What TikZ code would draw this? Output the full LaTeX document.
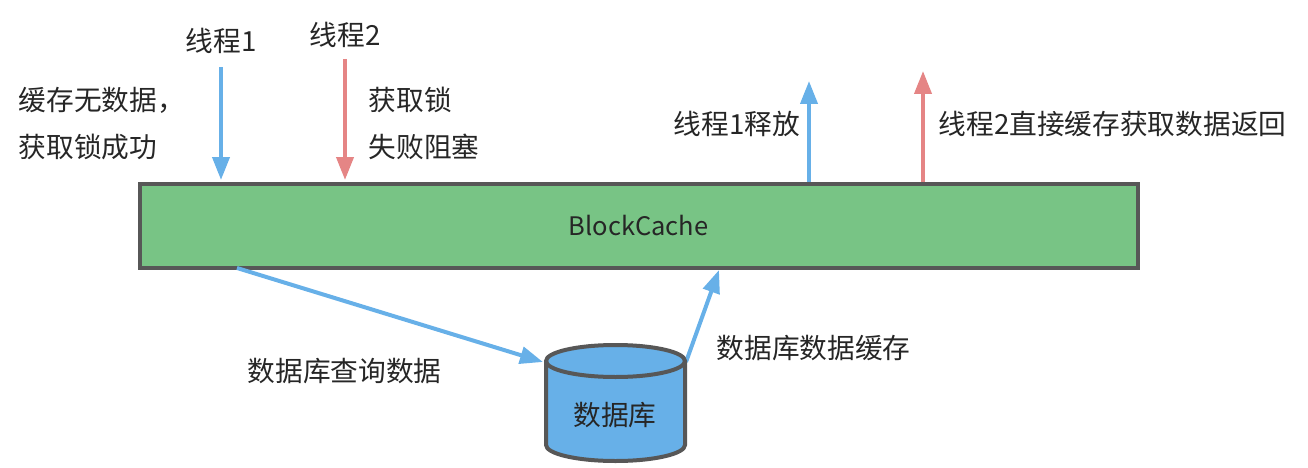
\documentclass[tikz,border=0pt]{standalone}
\usepackage{fontspec}
\setmainfont{Noto Sans CJK SC}
\usetikzlibrary{arrows.meta,shapes.geometric}
\definecolor{blueA}{HTML}{67B0E8}
\definecolor{redA}{HTML}{E58585}
\definecolor{greenA}{HTML}{78C485}
\definecolor{edgeA}{HTML}{575757}
\definecolor{txtA}{HTML}{262626}
\tikzset{x=1pt,y=-1pt,
 lbl/.style={inner sep=0pt,font=\fontsize{27.7}{33}\selectfont,text=txtA,anchor=west,align=left},
 arr/.style={line width=4pt,-{Triangle[length=23pt,width=17pt]}},
 b/.style={arr,draw=blueA,fill=blueA},
 r/.style={arr,draw=redA,fill=redA}}
\begin{document}
\begin{tikzpicture}
\useasboundingbox (0,0) rectangle (1308,468);
\node[draw=edgeA,fill=greenA,line width=4pt,minimum width=998pt,minimum height=84pt,inner sep=0pt,anchor=north west,font=\fontsize{25.5}{30}\selectfont,text=txtA] (cache) at (137.5,181.5) {BlockCache};
\coordinate (t1s) at (221,67); \coordinate (t1e) at (221,180);
\coordinate (t2s) at (345,59); \coordinate (t2e) at (345,180);
\coordinate (u1s) at (809,182); \coordinate (u1e) at (809,81);
\coordinate (u2s) at (923,182); \coordinate (u2e) at (923,71);
\coordinate (qs) at (237,268); \coordinate (qe) at (543,362);
\coordinate (cs) at (686,362); \coordinate (ce) at (719,270);
\draw[b] (t1s) -- (t1e);
\draw[r] (t2s) -- (t2e);
\draw[b] (u1s) -- (u1e);
\draw[r] (u2s) -- (u2e);
\draw[b] (qs) -- (qe);
\draw[b] (cs) -- (ce);
\path[draw=edgeA,fill=blueA,line width=4pt] (546,361) arc[x radius=69.5,y radius=16,start angle=180,end angle=360] -- (685,445) arc[x radius=69.5,y radius=16,start angle=0,end angle=180] -- cycle;
\path[draw=edgeA,line width=4pt] (546,361) arc[x radius=69.5,y radius=16,start angle=180,end angle=0];
\node[lbl,anchor=center] (db) at (615,415) {数据库};
\node[lbl] (l1) at (185.5,41) {线程1};
\node[lbl] (l2) at (309.5,35) {线程2};
\node[lbl] (l3) at (18.5,100) {缓存无数据，};
\node[lbl] (l4) at (18.5,147) {获取锁成功};
\node[lbl] (l5) at (368.5,100) {获取锁};
\node[lbl] (l6) at (368.5,147) {失败阻塞};
\node[lbl] (l7) at (673.5,124) {线程1释放};
\node[lbl] (l8) at (938.5,124) {线程2直接缓存获取数据返回};
\node[lbl] (l9) at (247.5,371) {数据库查询数据};
\node[lbl] (l10) at (716.5,348) {数据库数据缓存};
\end{tikzpicture}
\end{document}
